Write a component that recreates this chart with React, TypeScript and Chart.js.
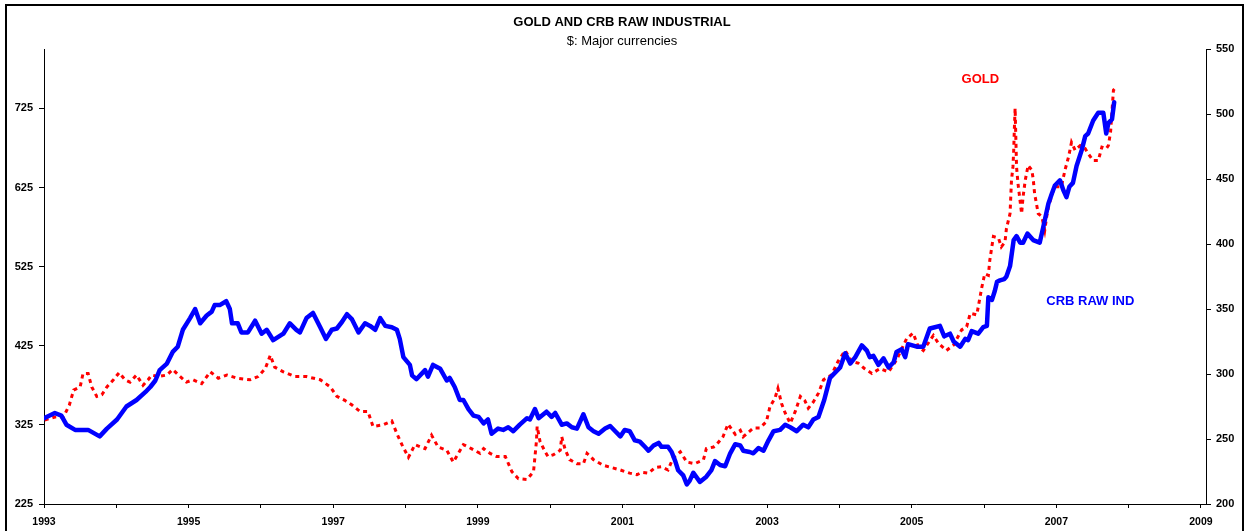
import React, { useEffect, useRef } from 'react';
import { Chart, registerables } from 'chart.js';

Chart.register(...registerables);

// CRB Raw Industrial index (right axis)
const crbYears = [
  1993.00, 1993.15, 1993.24, 1993.31, 1993.43, 1993.61, 1993.77, 1993.87, 1994.01, 1994.14,
  1994.28, 1994.40, 1994.47, 1994.54, 1994.60, 1994.70, 1994.78, 1994.85, 1994.92, 1995.02,
  1995.09, 1995.16, 1995.25, 1995.32, 1995.36, 1995.43, 1995.52, 1995.57, 1995.60, 1995.68,
  1995.73, 1995.82, 1995.92, 1996.01, 1996.08, 1996.17, 1996.31, 1996.40, 1996.49, 1996.54,
  1996.63, 1996.72, 1996.82, 1996.90, 1996.98, 1997.05, 1997.12, 1997.19, 1997.26, 1997.35,
  1997.44, 1997.51, 1997.58, 1997.65, 1997.72, 1997.81, 1997.88, 1997.92, 1997.97, 1998.06,
  1998.09, 1998.15, 1998.27, 1998.31, 1998.38, 1998.48, 1998.57, 1998.61, 1998.68, 1998.75,
  1998.80, 1998.87, 1998.94, 1999.01, 1999.08, 1999.14, 1999.19, 1999.28, 1999.35, 1999.42,
  1999.49, 1999.58, 1999.68, 1999.72, 1999.79, 1999.84, 1999.95, 2000.02, 2000.07, 2000.16,
  2000.23, 2000.30, 2000.37, 2000.46, 2000.53, 2000.60, 2000.67, 2000.76, 2000.83, 2000.90,
  2000.97, 2001.03, 2001.10, 2001.17, 2001.24, 2001.31, 2001.36, 2001.43, 2001.50, 2001.54,
  2001.63, 2001.68, 2001.73, 2001.77, 2001.84, 2001.89, 2001.93, 2001.98, 2002.07, 2002.16,
  2002.23, 2002.28, 2002.35, 2002.42, 2002.49, 2002.56, 2002.63, 2002.67, 2002.76, 2002.81,
  2002.88, 2002.95, 2003.02, 2003.09, 2003.18, 2003.25, 2003.32, 2003.41, 2003.50, 2003.57,
  2003.64, 2003.71, 2003.79, 2003.87, 2004.01, 2004.08, 2004.15, 2004.22, 2004.31, 2004.38,
  2004.42, 2004.47, 2004.54, 2004.61, 2004.68, 2004.75, 2004.79, 2004.86, 2004.91, 2004.95,
  2005.07, 2005.16, 2005.25, 2005.32, 2005.39, 2005.45, 2005.53, 2005.58, 2005.67, 2005.74,
  2005.78, 2005.83, 2005.92, 2005.99, 2006.04, 2006.06, 2006.11, 2006.15, 2006.18, 2006.22,
  2006.28, 2006.31, 2006.36, 2006.41, 2006.45, 2006.50, 2006.54, 2006.60, 2006.68, 2006.77,
  2006.82, 2006.89, 2006.94, 2006.98, 2007.05, 2007.10, 2007.14, 2007.18, 2007.23, 2007.28,
  2007.35, 2007.40, 2007.44, 2007.51, 2007.58, 2007.65, 2007.69, 2007.72, 2007.77, 2007.80,
];
const crbValues = [
  266, 270, 268, 261, 257, 257, 252, 258, 265, 275,
  280, 286, 290, 295, 303, 308, 317, 321, 334, 343,
  350, 339, 345, 348, 353, 353, 356, 350, 339, 339,
  332, 332, 341, 331, 334, 326, 331, 339, 334, 332,
  343, 347, 336, 327, 334, 335, 340, 346, 342, 332,
  339, 337, 334, 343, 337, 336, 334, 327, 313, 307,
  299, 296, 303, 298, 307, 304, 295, 297, 290, 280,
  280, 273, 268, 267, 262, 265, 254, 258, 257, 259,
  256, 261, 266, 265, 273, 266, 271, 267, 270, 261,
  262, 259, 258, 269, 259, 256, 254, 258, 260, 256,
  252, 257, 256, 249, 248, 244, 241, 245, 247, 244,
  244, 240, 233, 226, 222, 215, 218, 224, 217, 221,
  226, 233, 230, 229, 239, 246, 245, 241, 240, 239,
  243, 241, 249, 256, 257, 261, 259, 256, 261, 259,
  265, 267, 280, 297, 305, 316, 308, 313, 322, 318,
  313, 314, 307, 312, 305, 309, 317, 319, 313, 323,
  321, 321, 335, 336, 337, 329, 331, 325, 321, 327,
  326, 333, 331, 336, 337, 359, 357, 364, 371, 372,
  373, 375, 383, 403, 406, 401, 401, 408, 403, 401,
  413, 431, 439, 445, 449, 441, 436, 444, 447, 460,
  472, 483, 485, 495, 501, 501, 485, 493, 496, 509,
];

// Gold price, $ (left axis)
const goldYears = [
  1993.01, 1993.15, 1993.27, 1993.35, 1993.41, 1993.50, 1993.54, 1993.61, 1993.66, 1993.73,
  1993.80, 1993.87, 1993.96, 1994.04, 1994.12, 1994.19, 1994.28, 1994.37, 1994.44, 1994.49,
  1994.58, 1994.70, 1994.78, 1994.86, 1994.97, 1995.06, 1995.18, 1995.30, 1995.41, 1995.53,
  1995.67, 1995.85, 1995.96, 1996.06, 1996.13, 1996.19, 1996.31, 1996.47, 1996.63, 1996.82,
  1996.96, 1997.05, 1997.16, 1997.26, 1997.37, 1997.48, 1997.55, 1997.69, 1997.81, 1997.88,
  1997.95, 1998.04, 1998.13, 1998.27, 1998.36, 1998.45, 1998.57, 1998.66, 1998.73, 1998.80,
  1998.91, 1999.03, 1999.08, 1999.17, 1999.26, 1999.38, 1999.47, 1999.56, 1999.68, 1999.77,
  1999.79, 1999.81, 1999.82, 1999.86, 1999.93, 1999.97, 2000.04, 2000.14, 2000.16, 2000.21,
  2000.27, 2000.37, 2000.46, 2000.51, 2000.60, 2000.73, 2000.85, 2000.97, 2001.10, 2001.20,
  2001.27, 2001.36, 2001.45, 2001.54, 2001.63, 2001.70, 2001.80, 2001.89, 2002.00, 2002.12,
  2002.16, 2002.26, 2002.30, 2002.39, 2002.46, 2002.56, 2002.63, 2002.67, 2002.81, 2002.90,
  2002.99, 2003.04, 2003.11, 2003.15, 2003.20, 2003.25, 2003.32, 2003.39, 2003.46, 2003.52,
  2003.57, 2003.64, 2003.71, 2003.78, 2003.89, 2003.98, 2004.08, 2004.17, 2004.26, 2004.35,
  2004.45, 2004.56, 2004.68, 2004.79, 2004.93, 2005.02, 2005.09, 2005.16, 2005.30, 2005.37,
  2005.48, 2005.58, 2005.69, 2005.76, 2005.81, 2005.90, 2005.97, 2006.01, 2006.06, 2006.08,
  2006.13, 2006.20, 2006.24, 2006.29, 2006.31, 2006.36, 2006.37, 2006.38, 2006.40, 2006.41,
  2006.42, 2006.43, 2006.45, 2006.47, 2006.52, 2006.54, 2006.57, 2006.61, 2006.66, 2006.68,
  2006.70, 2006.75, 2006.80, 2006.84, 2006.87, 2006.89, 2006.96, 2007.00, 2007.07, 2007.12,
  2007.17, 2007.21, 2007.26, 2007.33, 2007.40, 2007.44, 2007.51, 2007.58, 2007.63, 2007.69,
  2007.72, 2007.75, 2007.79, 2007.81,
];
const goldValues = [
  331, 335, 335, 350, 369, 373, 390, 390, 373, 361,
  363, 373, 382, 391, 382, 379, 388, 375, 382, 388,
  386, 388, 395, 388, 379, 382, 377, 392, 384, 388,
  384, 382, 386, 396, 413, 398, 392, 386, 386, 382,
  373, 361, 356, 350, 342, 342, 323, 325, 330, 314,
  300, 284, 300, 295, 312, 297, 293, 278, 289, 300,
  295, 289, 295, 289, 285, 285, 266, 257, 256, 266,
  285, 304, 323, 304, 291, 285, 287, 293, 310, 293,
  281, 276, 276, 289, 281, 274, 271, 268, 264, 262,
  265, 264, 271, 272, 268, 283, 291, 278, 276, 281,
  295, 297, 300, 310, 326, 313, 318, 310, 321, 321,
  329, 348, 359, 371, 352, 340, 327, 342, 361, 356,
  346, 354, 365, 382, 388, 405, 419, 405, 403, 396,
  390, 396, 392, 407, 434, 441, 424, 419, 438, 428,
  419, 426, 445, 449, 466, 464, 499, 516, 514, 533,
  563, 561, 550, 556, 573, 592, 613, 634, 651, 670,
  700, 725, 651, 630, 592, 613, 634, 653, 647, 636,
  617, 592, 588, 571, 590, 600, 622, 626, 626, 647,
  664, 682, 672, 678, 674, 668, 659, 659, 676, 674,
  678, 695, 748, 750,
];

const xTickYears = [1993, 1994, 1995, 1996, 1997, 1998, 1999, 2000, 2001, 2002, 2003, 2004, 2005, 2006, 2007, 2008, 2009];
const goldTicks = [225, 325, 425, 525, 625, 725];
const crbTicks = [200, 250, 300, 350, 400, 450, 500, 550];

const FONT = '"Liberation Sans", Arial, Helvetica, sans-serif';

export default function App() {
  const ref = useRef<HTMLCanvasElement>(null);

  useEffect(() => {
    document.body.style.margin = '0';
    const canvas = ref.current;
    if (!canvas) return;
    Chart.defaults.font.family = FONT;

    const framePlugin = {
      id: 'frameAndLabels',
      afterDatasetsDraw(chart: any) {
        const ctx = chart.ctx;
        const xs = chart.scales.x;
        const yl = chart.scales.yL;
        const yr = chart.scales.yR;
        ctx.save();
        ctx.font = `bold 13px ${FONT}`;
        ctx.textAlign = 'center';
        ctx.textBaseline = 'middle';
        ctx.fillStyle = '#FF0000';
        ctx.fillText('GOLD', xs.getPixelForValue(2005.95), yl.getPixelForValue(762));
        ctx.fillStyle = '#0000FF';
        ctx.fillText('CRB RAW IND', xs.getPixelForValue(2007.47), yr.getPixelForValue(356));
        ctx.restore();
      },
      afterDraw(chart: any) {
        const ctx = chart.ctx;
        ctx.save();
        ctx.strokeStyle = '#000';
        ctx.lineWidth = 2;
        ctx.strokeRect(6, 5, 1237, 560);
        ctx.restore();
      },
    };

    const chart = new Chart(canvas, {
      type: 'line',
      data: {
        datasets: [
          {
            label: 'CRB RAW IND',
            data: crbYears.map((x, i) => ({ x, y: crbValues[i] })),
            yAxisID: 'yR',
            borderColor: '#0000FF',
            backgroundColor: '#0000FF',
            borderWidth: 4.5,
            pointRadius: 0,
            borderJoinStyle: 'round',
            borderCapStyle: 'round',
            tension: 0,
            order: 0,
          },
          {
            label: 'GOLD',
            data: goldYears.map((x, i) => ({ x, y: goldValues[i] })),
            yAxisID: 'yL',
            borderColor: '#FF0000',
            backgroundColor: '#FF0000',
            borderWidth: 3,
            borderDash: [4, 4],
            pointRadius: 0,
            tension: 0,
            order: 1,
          },
        ],
      },
      options: {
        responsive: false,
        animation: false,
        layout: { padding: 0 },
        plugins: {
          legend: { display: false },
          tooltip: { enabled: false },
          title: {
            display: true,
            text: 'GOLD AND CRB RAW INDUSTRIAL',
            color: '#000',
            font: { size: 13, weight: 'bold', family: FONT },
            padding: { top: 15, bottom: 0 },
          },
          subtitle: {
            display: true,
            text: '$: Major currencies',
            color: '#000',
            font: { size: 13, weight: 'normal', family: FONT },
            padding: { top: 2.8, bottom: 0 },
          },
        },
        scales: {
          x: {
            type: 'linear',
            min: 1993,
            max: 2009.07,
            afterBuildTicks: (s: any) => {
              s.ticks = xTickYears.map((v) => ({ value: v }));
            },
            afterFit: (s: any) => {
              s.height = 27;
            },
            ticks: {
              autoSkip: false,
              maxRotation: 0,
              minRotation: 0,
              color: '#000',
              padding: 8,
              font: { size: 10.5, weight: 'bold', family: FONT },
              callback: (v: any) => {
                const y = Math.round(Number(v));
                return y % 2 === 1 ? String(y) : '';
              },
            },
            grid: { display: true, drawOnChartArea: false, drawTicks: true, tickLength: 4, color: '#000' },
            border: { display: true, color: '#000', width: 1 },
          },
          yL: {
            type: 'linear',
            position: 'left',
            min: 225,
            max: 800,
            afterBuildTicks: (s: any) => {
              s.ticks = goldTicks.map((v) => ({ value: v }));
            },
            afterFit: (s: any) => {
              s.width = 44;
            },
            ticks: {
              color: '#000',
              padding: 6,
              font: { size: 11, weight: 'bold', family: FONT },
            },
            grid: { display: true, drawOnChartArea: false, drawTicks: true, tickLength: 5, color: '#000' },
            border: { display: true, color: '#000', width: 1 },
          },
          yR: {
            type: 'linear',
            position: 'right',
            min: 200,
            max: 550,
            afterBuildTicks: (s: any) => {
              s.ticks = crbTicks.map((v) => ({ value: v }));
            },
            afterFit: (s: any) => {
              s.width = 38;
            },
            ticks: {
              color: '#000',
              padding: 5,
              font: { size: 11, weight: 'bold', family: FONT },
            },
            grid: { display: true, drawOnChartArea: false, drawTicks: true, tickLength: 5, color: '#000' },
            border: { display: true, color: '#000', width: 1 },
          },
        },
      } as any,
      plugins: [framePlugin],
    });

    return () => {
      chart.destroy();
    };
  }, []);

  return (
    <div style={{ width: 1244, height: 531, overflow: 'hidden' }}>
      <canvas ref={ref} width={1244} height={531} style={{ display: 'block' }} />
    </div>
  );
}
